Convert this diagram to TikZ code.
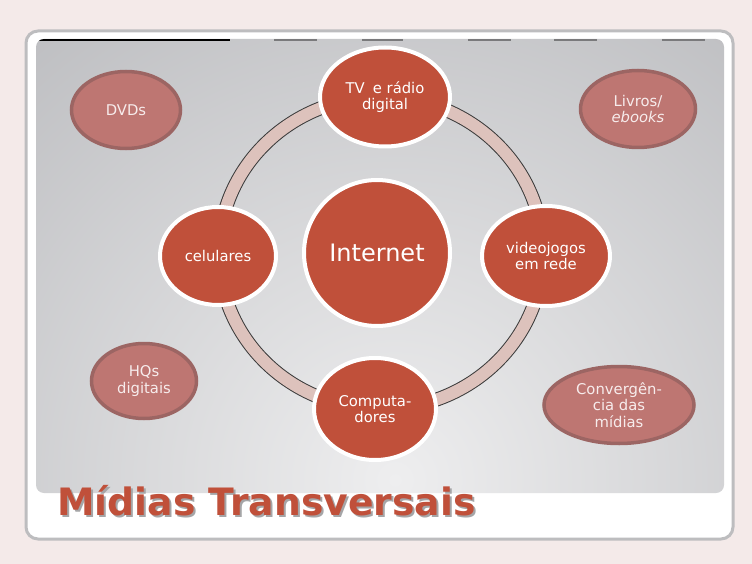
\documentclass[tikz,border=0pt]{standalone}
\usepackage{fontspec}
\setmainfont{DejaVu Sans}
\usetikzlibrary{shapes.geometric}
\definecolor{bg}{HTML}{F4EAE9}
\definecolor{framegray}{HTML}{BDBDBF}
\definecolor{panelin}{HTML}{EEEEEF}
\definecolor{panelout}{HTML}{A9AAAE}
\definecolor{nodered}{HTML}{C0503A}
\definecolor{sidefill}{HTML}{BE7672}
\definecolor{sideborder}{HTML}{9C6563}
\definecolor{sidetext}{HTML}{F7ECEC}
\definecolor{ringfill}{HTML}{DDC2BC}
\definecolor{ringline}{HTML}{3A3A3A}
\definecolor{dashgray}{HTML}{7A7A7C}
\definecolor{shadowgray}{HTML}{A5A5A7}
\tikzset{
  hub/.style={ellipse, fill=nodered, draw=white, line width=4pt, text=white,
    font=\fontsize{14.8}{16.5}\selectfont, align=center, inner sep=0pt},
  side/.style={ellipse, fill=sidefill, draw=sideborder, line width=3.5pt, text=sidetext,
    font=\fontsize{14.8}{16.5}\selectfont, align=center, inner sep=0pt},
  titletext/.style={font=\fontsize{37.7}{40}\selectfont\bfseries, anchor=base west, inner sep=0pt}
}
\newcommand{\titlewithshadow}[1]{\rlap{\hspace{2pt}\raisebox{-2pt}{\color{shadowgray}#1}}#1}
\begin{document}
\begin{tikzpicture}[x=1pt,y=-1pt]
\useasboundingbox (0,0) rectangle (752,564);
\fill[bg] (0,0) rectangle (752,564);
\draw[framegray, line width=3pt, fill=white, rounded corners=12pt] (26,31) rectangle (733,539);
\begin{scope}
  \clip[rounded corners=8pt] (36,39) rectangle (724,493);
  \shade[inner color=panelin, outer color=panelout] (395,480) circle (830);
  \draw[black, line width=1.6pt] (36,40) -- (230,40);
  \foreach \a/\b in {274/317,362/403,468/511,554/597,662/705}
    \draw[dashgray, line width=1.6pt] (\a,40) -- (\b,40);
\end{scope}
% ring
\draw[ringline, line width=14pt] (381,253) ellipse [x radius=162, y radius=156];
\draw[ringfill, line width=12pt] (381,253) ellipse [x radius=162, y radius=156];
% hub nodes
\node[hub, minimum width=146pt, minimum height=146pt, font=\fontsize{24}{28}\selectfont] (internet) at (377,253) {Internet};
\node[hub, minimum width=130pt, minimum height=99pt] (tv) at (385,97) {TV\hspace{0.55em}e rádio\\digital};
\node[hub, minimum width=116pt, minimum height=98pt] (cel) at (218,256) {celulares};
\node[hub, minimum width=128pt, minimum height=100pt] (video) at (546,256) {videojogos\\em rede};
\node[hub, minimum width=122pt, minimum height=102pt] (comp) at (375,409) {Computa-\\dores};
% side nodes
\node[side, minimum width=109pt, minimum height=77pt] (dvd) at (126,110) {DVDs};
\node[side, minimum width=115pt, minimum height=77pt] (livros) at (638,109) {Livros/\\\textit{ebooks}};
\node[side, minimum width=105pt, minimum height=75pt] (hq) at (144,381) {HQs\\digitais};
\node[side, minimum width=150pt, minimum height=77pt] (conv) at (619,405) {Convergên-\\cia das\\mídias};
% title
\node[titletext, text=nodered] (title) at (57,515) {\titlewithshadow{Mídias Transversais}};
\end{tikzpicture}
\end{document}
